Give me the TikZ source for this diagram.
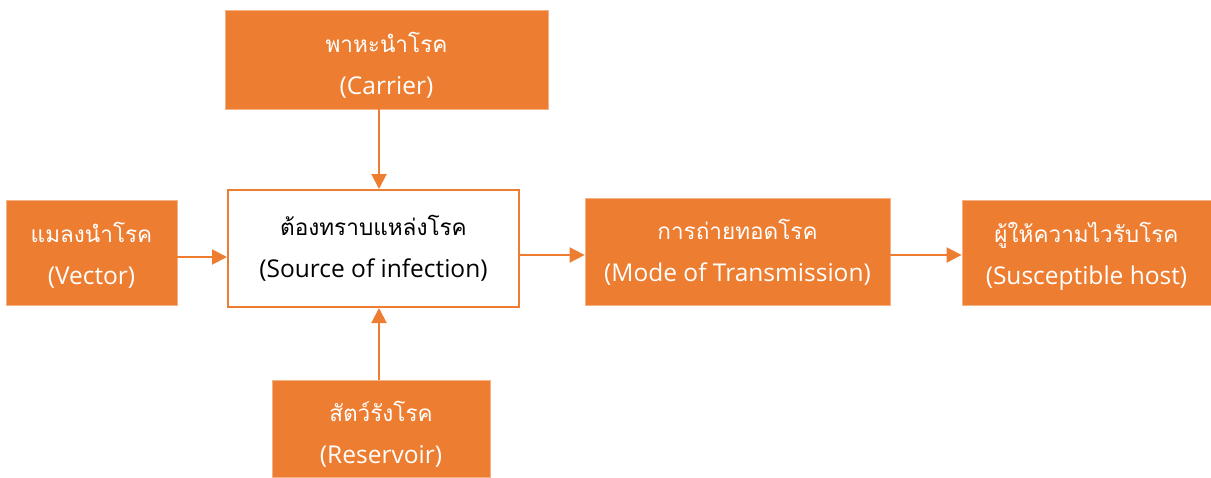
\documentclass[tikz,border=0pt]{standalone}
\usepackage{fontspec}
\setmainfont{Open Sans}
\newfontfamily\thaifont[Script=Thai, Scale=0.92]{Loma}
\usetikzlibrary{arrows.meta}
\definecolor{orn}{HTML}{ED7D31}
\begin{document}
\begin{tikzpicture}[x=1pt,y=-1pt,
  box/.style={fill=orn, draw=orn!60!white, line width=0.8pt, inner sep=0pt},
  srcbox/.style={fill=white, draw=orn, line width=2pt, inner sep=0pt},
  txt/.style={text=white, inner sep=0pt, align=center, font=\fontsize{24.5}{42}\selectfont},
  srctxt/.style={txt, text=black},
  arr/.style={draw=orn, line width=2pt, -{Triangle[length=15pt,width=15pt]}}]
\useasboundingbox (0,0) rectangle (1211,477);
\node[box, minimum width=323pt, minimum height=99pt] (carrier) at (386.5,59.5) {};
\node[txt, yshift=-6pt] (carriert) at (carrier.center) {{\thaifont พาหะนำโรค}\\(Carrier)};
\node[srcbox, minimum width=291pt, minimum height=117pt] (src) at (373.5,248.5) {};
\node[srctxt] (srct) at (src.center) {{\thaifont ต้องทราบแหล่งโรค}\\(Source of infection)};
\node[box, minimum width=171pt, minimum height=105pt] (vec) at (91.5,252.5) {};
\node[txt, yshift=-3pt] (vect) at (vec.center) {{\thaifont แมลงนำโรค}\\(Vector)};
\node[box, minimum width=305pt, minimum height=107pt] (mode) at (737.5,251.5) {};
\node[txt, yshift=-1pt] (modet) at (mode.center) {{\thaifont การถ่ายทอดโรค}\\(Mode of Transmission)};
\node[box, minimum width=249pt, minimum height=105pt] (host) at (1086.5,252.5) {};
\node[txt, yshift=-4pt] (hostt) at (host.center) {{\thaifont ผู้ให้ความไวรับโรค}\\(Susceptible host)};
\node[box, minimum width=218pt, minimum height=97pt] (res) at (381,428.5) {};
\node[txt, yshift=-6pt] (rest) at (res.center) {{\thaifont สัตว์รังโรค}\\(Reservoir)};
\coordinate (ax) at (379,0);
\coordinate (ay1) at (0,257);
\coordinate (ay2) at (0,255);
\draw[arr] (carrier.south -| ax) -- (src.north -| ax);
\draw[arr] (res.north -| ax) -- (src.south -| ax);
\draw[arr] (vec.east |- ay1) -- (src.west |- ay1);
\draw[arr] (src.east |- ay2) -- (mode.west |- ay2);
\draw[arr] (mode.east |- ay2) -- (host.west |- ay2);
\end{tikzpicture}
\end{document}
